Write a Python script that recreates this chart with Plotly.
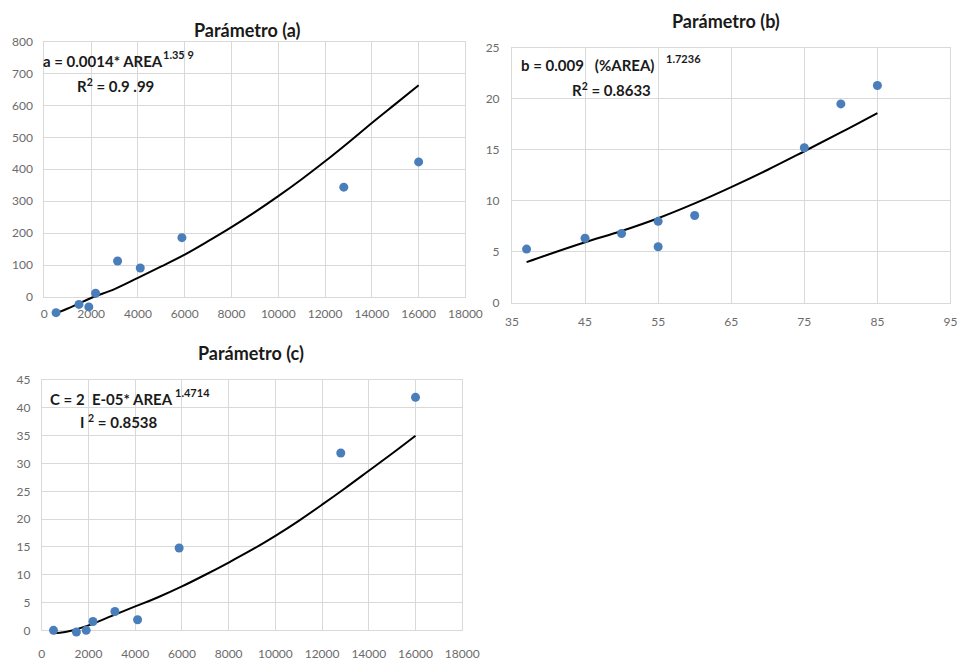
import plotly.graph_objects as go

W, H = 975, 666

# ---------------- data ----------------
area = [500, 1480, 1900, 2190, 3130, 4100, 5880, 12800, 16000]

a_vals = [-49, -23, -31, 12, 113, 91, 186, 344, 423]
a_fit_x = [556, 1000, 2000, 3000, 4000, 5000, 6000, 7000, 8000, 9000, 10000,
           11000, 12000, 13000, 14000, 15000, 16000]
a_fit_y = [-49, -36, -3, 25, 60, 96, 133, 175, 219, 266, 316,
           369, 425, 484, 545, 604, 663]

pct_area = [37, 45, 50, 55, 55, 60, 75, 80, 85]
b_vals = [5.27, 6.33, 6.8, 7.99, 5.5, 8.56, 15.2, 19.5, 21.3]
b_fit_x = [37, 40, 45, 50, 55, 60, 65, 70, 75, 80, 85]
b_fit_y = [3.99, 4.75, 5.95, 7.05, 8.3, 9.75, 11.35, 13.05, 14.86, 16.7, 18.6]

c_vals = [0.0, -0.3, 0.0, 1.6, 3.4, 1.9, 14.8, 31.9, 41.9]
c_fit_x = [500, 1000, 2000, 3000, 4000, 5000, 6000, 7000, 8000, 9000, 10000,
           11000, 12000, 13000, 14000, 15000, 16000]
c_fit_y = [-0.5, -0.3, 0.9, 2.6, 4.3, 6.0, 7.9, 10.0, 12.2, 14.5, 17.0,
           19.7, 22.6, 25.6, 28.7, 31.8, 35.0]

titles = ["Parámetro (a)", "Parámetro (b)", "Parámetro (c)"]

# ---------------- styling ----------------
FONT = "Lato"
PT_COLOR = "#4a7ebb"
GRID = "#d9d9d9"
TICKFONT = dict(family=FONT, size=12, color="#6b6b6b")


def px_x(p):
    return p / W


def px_y(p):
    return 1 - p / H


def main_axis(domain, rng, dtick, ticklen, tick0=0):
    return dict(
        domain=domain, range=rng, dtick=dtick, tick0=tick0, tickformat="d",
        showgrid=True, gridcolor=GRID, gridwidth=1, zeroline=False,
        showline=True, linecolor=GRID, mirror=True,
        ticks="outside", ticklen=ticklen, tickcolor="rgba(0,0,0,0)",
        tickfont=TICKFONT, fixedrange=True,
    )


def hidden_axis(domain, rng, anchor):
    return dict(domain=domain, range=rng, visible=False, anchor=anchor,
                showgrid=False, zeroline=False, fixedrange=True)


fig = go.Figure()

# ---- panel (a): main grid axes x/y, overlay x4/y4 for marks spilling below 0
a_left, a_right, a_top, a_bot = 38.3, 470.0, 34.3, 295.7
a_k = (a_bot - a_top) / 800
a_low = -60
a_bot_ext = a_bot - a_low * a_k

# ---- panel (b): axes x2/y2
b_left, b_right, b_top, b_bot = 517.7, 967.3, 40.7, 301.7

# ---- panel (c): main x3/y3, overlay x5/y5
c_left, c_right, c_top, c_bot = 35.7, 466.7, 380.7, 636.7
c_k = (c_bot - c_top) / 45
c_low = -1.5
c_bot_ext = c_bot - c_low * c_k

# empty traces so main subplots exist
fig.add_trace(go.Scatter(x=[], y=[], xaxis="x", yaxis="y", showlegend=False))
fig.add_trace(go.Scatter(x=[], y=[], xaxis="x3", yaxis="y3", showlegend=False))

line_style = dict(color="black", width=2, shape="spline", smoothing=1.0)
marker_style = dict(color=PT_COLOR, size=9)

# panel (a)
fig.add_trace(go.Scatter(x=a_fit_x, y=a_fit_y, mode="lines", line=line_style,
                         xaxis="x4", yaxis="y4", showlegend=False, hoverinfo="skip"))
fig.add_trace(go.Scatter(x=area, y=a_vals, mode="markers", marker=marker_style,
                         xaxis="x4", yaxis="y4", showlegend=False, cliponaxis=False))
# panel (b)
fig.add_trace(go.Scatter(x=b_fit_x, y=b_fit_y, mode="lines", line=line_style,
                         xaxis="x2", yaxis="y2", showlegend=False, hoverinfo="skip"))
fig.add_trace(go.Scatter(x=pct_area, y=b_vals, mode="markers", marker=marker_style,
                         xaxis="x2", yaxis="y2", showlegend=False, cliponaxis=False))
# panel (c)
fig.add_trace(go.Scatter(x=c_fit_x, y=c_fit_y, mode="lines", line=line_style,
                         xaxis="x5", yaxis="y5", showlegend=False, hoverinfo="skip"))
fig.add_trace(go.Scatter(x=area, y=c_vals, mode="markers", marker=marker_style,
                         xaxis="x5", yaxis="y5", showlegend=False, cliponaxis=False))

a_xdom = [px_x(a_left), px_x(a_right)]
b_xdom = [px_x(b_left), px_x(b_right)]
c_xdom = [px_x(c_left), px_x(c_right)]

xa = main_axis(a_xdom, [0, 18000], 2000, 6)
xa["anchor"] = "y"
ya = main_axis([px_y(a_bot), px_y(a_top)], [0, 800], 100, 8)
ya["anchor"] = "x"

xb = main_axis(b_xdom, [35, 95], 10, 8, tick0=35)
xb["anchor"] = "y2"
yb = main_axis([px_y(b_bot), px_y(b_top)], [0, 25], 5, 9)
yb["anchor"] = "x2"

xc = main_axis(c_xdom, [0, 18000], 2000, 12)
xc["anchor"] = "y3"
yc = main_axis([px_y(c_bot), px_y(c_top)], [0, 45], 5, 8)
yc["anchor"] = "x3"

fig.update_layout(
    width=W, height=H,
    margin=dict(l=0, r=0, t=0, b=0),
    paper_bgcolor="white", plot_bgcolor="rgba(0,0,0,0)",
    showlegend=False,
    xaxis=xa, yaxis=ya,
    xaxis2=xb, yaxis2=yb,
    xaxis3=xc, yaxis3=yc,
    xaxis4=hidden_axis(a_xdom, [0, 18000], "y4"),
    yaxis4=hidden_axis([px_y(a_bot_ext), px_y(a_top)], [a_low, 800], "x4"),
    xaxis5=hidden_axis(c_xdom, [0, 18000], "y5"),
    yaxis5=hidden_axis([px_y(c_bot_ext), px_y(c_top)], [c_low, 45], "x5"),
)

TITLE_FONT = dict(family=FONT, size=18, color="#1a1a1a")
EQ_FONT = dict(family=FONT, size=15, color="#1a1a1a")
SUP_FONT = dict(family=FONT, size=11, color="#1a1a1a")


def ann(text, x, y, font, xanchor="left"):
    fig.add_annotation(text=text, x=px_x(x), y=px_y(y), xref="paper", yref="paper",
                       xanchor=xanchor, yanchor="middle", showarrow=False, font=font,
                       borderpad=0)


# titles
ann("<b>" + titles[0] + "</b>", 247, 22, TITLE_FONT, "center")
ann("<b>" + titles[1] + "</b>", 737, 13, TITLE_FONT, "center")
ann("<b>" + titles[2] + "</b>", 250, 353, TITLE_FONT, "center")

# equations panel (a)
ann("<b>a = 0.0014* AREA</b>", 36, 54, EQ_FONT)
ann("<b>1.35 9</b>", 159, 48, SUP_FONT)
ann("<b>R<sup>2</sup> = 0.9 .99</b>", 71, 79, EQ_FONT)

# equations panel (b)
ann("<b>b = 0.009 &nbsp;&nbsp;(%AREA)</b>", 526, 58, EQ_FONT)
ann("<b>1.7236</b>", 675, 52, SUP_FONT)
ann("<b>R<sup>2</sup> = 0.8633</b>", 578, 83, EQ_FONT)

# equations panel (c)
ann("<b>C = 2 &nbsp;E-05* AREA</b>", 43, 400, EQ_FONT)
ann("<b>1.4714</b>", 171, 393, SUP_FONT)
ann("<b>I <sup>2</sup> = 0.8538</b>", 74, 423, EQ_FONT)

fig.write_html("out.html")
